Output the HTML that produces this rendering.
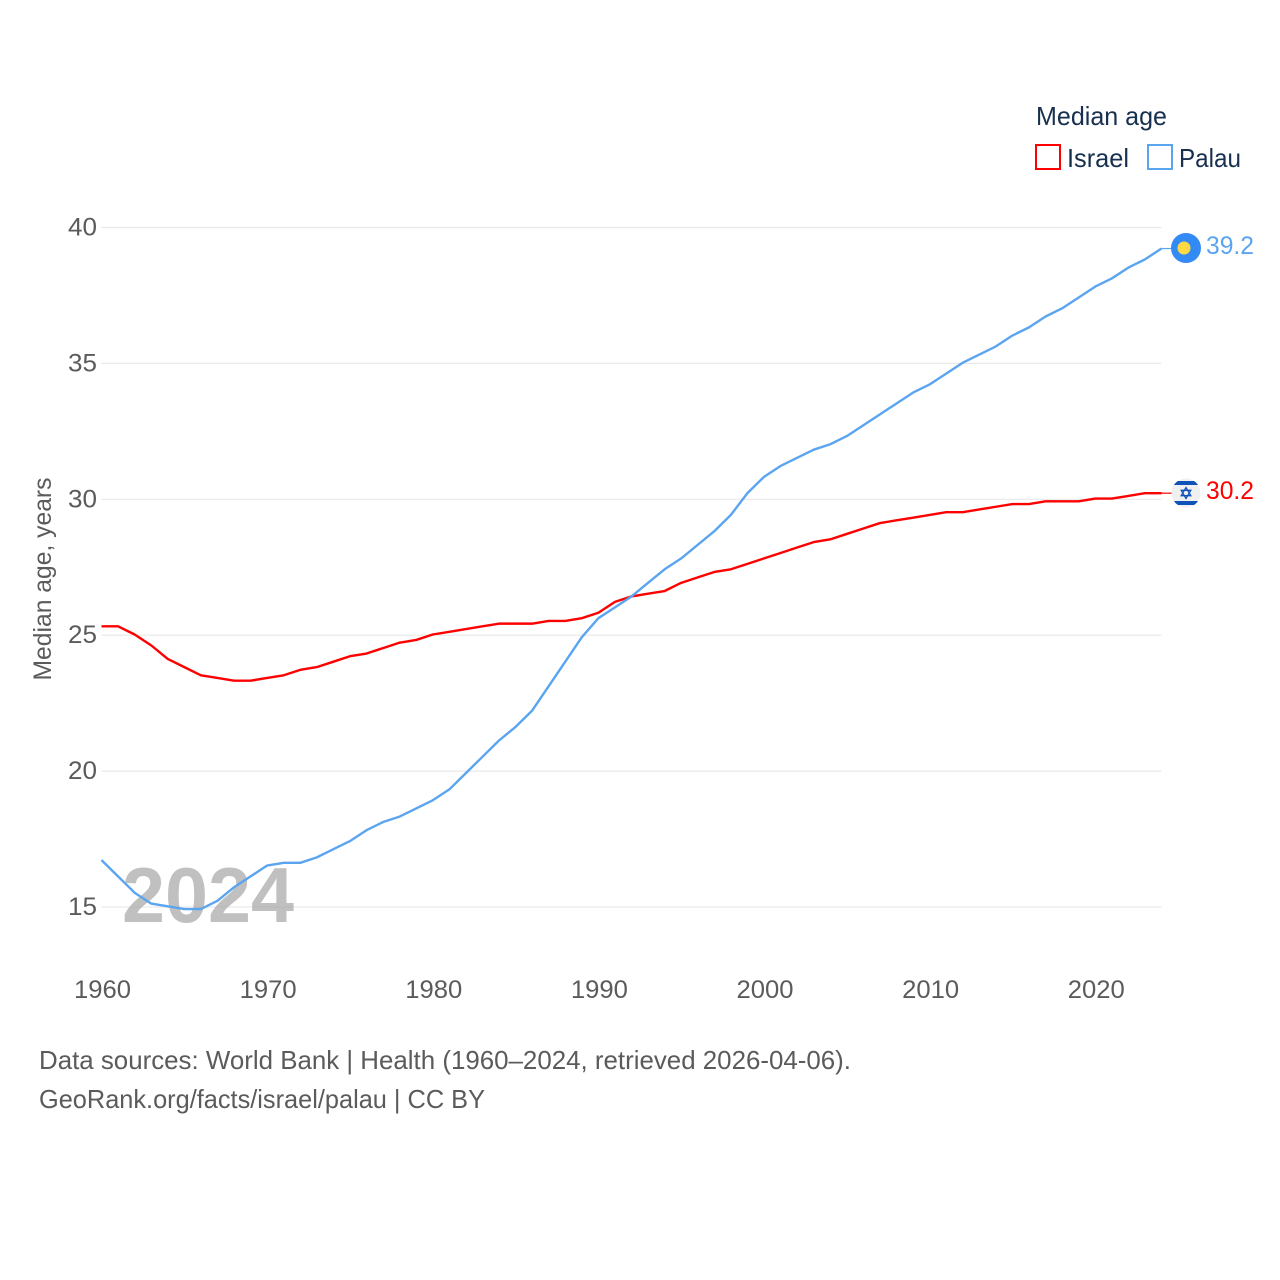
<!DOCTYPE html>
<html lang="en">
<head>
<meta charset="utf-8">
<title>Median age: Israel and Palau</title>
<style>
html,body{margin:0;padding:0;background:#fff}
svg{display:block}
text{font-family:"Liberation Sans",sans-serif}
</style>
</head>
<body>
<svg id="chart" xmlns="http://www.w3.org/2000/svg" width="1280" height="1280" viewBox="0 0 1280 1280">
  <rect x="0" y="0" width="1280" height="1280" fill="#fff"/>
  <g id="grid"></g>
  <g id="yticks"></g>
  <g id="xticks"></g>
  <text transform="translate(51,579) rotate(-90)" text-anchor="middle" font-size="25" fill="#5b5b5b" textLength="203" lengthAdjust="spacingAndGlyphs">Median age, years</text>
  <text x="122" y="922" font-size="78" font-weight="700" fill="#a8a8a8" fill-opacity="0.72" textLength="172" lengthAdjust="spacingAndGlyphs">2024</text>
  <g id="series" transform="translate(0,-0.7)"></g>

  <g>
    <text x="1036" y="125" font-size="26" fill="#18304f" textLength="131" lengthAdjust="spacingAndGlyphs">Median age</text>
    <g>
      <rect x="1036" y="145" width="24" height="24" fill="#fff" stroke="#ff0000" stroke-width="2"/>
      <text x="1067" y="167" font-size="26" fill="#18304f" textLength="62" lengthAdjust="spacingAndGlyphs">Israel</text>
    </g>
    <g>
      <rect x="1148" y="145" width="24" height="24" fill="#fff" stroke="#5ba5f0" stroke-width="2"/>
      <text x="1179" y="167" font-size="26" fill="#18304f" textLength="62" lengthAdjust="spacingAndGlyphs">Palau</text>
    </g>
  </g>

  <g>
    <circle cx="1186" cy="248" r="15" fill="#338af3"/>
    <circle cx="1184" cy="248" r="6.5" fill="#ffda44"/>
  </g>
  <g>
    <clipPath id="israel-clip"><circle cx="1186" cy="493" r="14.5"/></clipPath>
    <circle cx="1186" cy="493" r="14.5" fill="#f0f0f0"/>
    <g clip-path="url(#israel-clip)">
      <rect x="1170" y="481" width="32" height="4" fill="#0f52ba"/>
      <rect x="1170" y="501" width="32" height="4" fill="#0f52ba"/>
    </g>
    <path d="M1186 487.5l4.8 8.2h-9.6zM1186 498.5l-4.8-8.2h9.6z" fill="none" stroke="#0f52ba" stroke-width="1.3"/>
  </g>
  <text x="1206" y="254" font-size="25" fill="#5ba5f0" textLength="48" lengthAdjust="spacingAndGlyphs">39.2</text>
  <text x="1206" y="499" font-size="25" fill="#ff0000" textLength="48" lengthAdjust="spacingAndGlyphs">30.2</text>

  <g>
    <text x="39" y="1069" font-size="26" fill="#5b5b5b" textLength="812" lengthAdjust="spacingAndGlyphs">Data sources: World Bank | Health (1960–2024, retrieved 2026-04-06).</text>
    <text x="39" y="1108" font-size="26" fill="#5b5b5b" textLength="446" lengthAdjust="spacingAndGlyphs">GeoRank.org/facts/israel/palau | CC BY</text>
  </g>
</svg>
<script>
const firstYear = 1960;
const lastYear = 2024;
const yTickLabels = [15, 20, 25, 30, 35, 40];
const xTickLabels = [1960, 1970, 1980, 1990, 2000, 2010, 2020];
const israelValues = [25.3,25.3,25.0,24.6,24.1,23.8,23.5,23.4,23.3,23.3,23.4,23.5,23.7,23.8,24.0,24.2,24.3,24.5,24.7,24.8,25.0,25.1,25.2,25.3,25.4,25.4,25.4,25.5,25.5,25.6,25.8,26.2,26.4,26.5,26.6,26.9,27.1,27.3,27.4,27.6,27.8,28.0,28.2,28.4,28.5,28.7,28.9,29.1,29.2,29.3,29.4,29.5,29.5,29.6,29.7,29.8,29.8,29.9,29.9,29.9,30.0,30.0,30.1,30.2,30.2];
const palauValues = [16.7,16.1,15.5,15.1,15.0,14.9,14.9,15.2,15.7,16.1,16.5,16.6,16.6,16.8,17.1,17.4,17.8,18.1,18.3,18.6,18.9,19.3,19.9,20.5,21.1,21.6,22.2,23.1,24.0,24.9,25.6,26.0,26.4,26.9,27.4,27.8,28.3,28.8,29.4,30.2,30.8,31.2,31.5,31.8,32.0,32.3,32.7,33.1,33.5,33.9,34.2,34.6,35.0,35.3,35.6,36.0,36.3,36.7,37.0,37.4,37.8,38.1,38.5,38.8,39.2];

const NS = 'http://www.w3.org/2000/svg';
const plotLeft = 101.5, plotRight = 1161.5;
function xScale(year) { return plotLeft + (year - firstYear) * (plotRight - plotLeft) / (lastYear - firstYear); }
function yScale(value) { return 907 - (value - 15) * (907 - 227.5) / 25; }

const grid = document.getElementById('grid');
const yticks = document.getElementById('yticks');
const xticks = document.getElementById('xticks');
const series = document.getElementById('series');

yTickLabels.forEach(function (v) {
  const line = document.createElementNS(NS, 'line');
  
  
  line.setAttribute('x1', plotLeft);
  line.setAttribute('x2', plotRight);
  line.setAttribute('y1', yScale(v));
  line.setAttribute('y2', yScale(v));
  line.setAttribute('stroke', '#e9e9e9');
  line.setAttribute('stroke-width', '1.2');
  grid.appendChild(line);

  const t = document.createElementNS(NS, 'text');
  
  
  t.setAttribute('x', 97);
  t.setAttribute('y', yScale(v) + 8);
  t.setAttribute('text-anchor', 'end');
  t.setAttribute('font-size', '25');
  t.setAttribute('fill', '#5b5b5b');
  t.setAttribute('textLength', '29');
  t.setAttribute('lengthAdjust', 'spacingAndGlyphs');
  t.textContent = v;
  yticks.appendChild(t);
});

xTickLabels.forEach(function (y) {
  const t = document.createElementNS(NS, 'text');
  
  
  t.setAttribute('x', xScale(y) + 1);
  t.setAttribute('y', 998);
  t.setAttribute('text-anchor', 'middle');
  t.setAttribute('font-size', '25');
  t.setAttribute('fill', '#5b5b5b');
  t.setAttribute('textLength', '57');
  t.setAttribute('lengthAdjust', 'spacingAndGlyphs');
  t.textContent = y;
  xticks.appendChild(t);
});

function linePoints(values) {
  return values.map(function (v, i) {
    return xScale(firstYear + i).toFixed(2) + ',' + yScale(v).toFixed(2);
  });
}

const israelPts = linePoints(israelValues);
const israelLine = document.createElementNS(NS, 'polyline');


israelLine.setAttribute('points', israelPts.join(' '));
israelLine.setAttribute('fill', 'none');
israelLine.setAttribute('stroke', '#ff0000');
israelLine.setAttribute('stroke-width', '2.4');
israelLine.setAttribute('stroke-linejoin', 'round');
series.appendChild(israelLine);

const palauPts = linePoints(palauValues);
const palauLine = document.createElementNS(NS, 'polyline');


palauLine.setAttribute('points', palauPts.join(' '));
palauLine.setAttribute('fill', 'none');
palauLine.setAttribute('stroke', '#5ba5f0');
palauLine.setAttribute('stroke-width', '2.4');
palauLine.setAttribute('stroke-linejoin', 'round');
series.appendChild(palauLine);

const israelConn = document.createElementNS(NS, 'line');


israelConn.setAttribute('x1', plotRight);
israelConn.setAttribute('x2', 1172);
israelConn.setAttribute('y1', yScale(israelValues[israelValues.length - 1]));
israelConn.setAttribute('y2', yScale(israelValues[israelValues.length - 1]));
israelConn.setAttribute('stroke', '#ff0000');
israelConn.setAttribute('stroke-width', '1.2');
series.appendChild(israelConn);

const palauConn = document.createElementNS(NS, 'line');


palauConn.setAttribute('x1', plotRight);
palauConn.setAttribute('x2', 1172);
palauConn.setAttribute('y1', yScale(palauValues[palauValues.length - 1]));
palauConn.setAttribute('y2', yScale(palauValues[palauValues.length - 1]));
palauConn.setAttribute('stroke', '#5ba5f0');
palauConn.setAttribute('stroke-width', '1.2');
series.appendChild(palauConn);
</script>
</body>
</html>
